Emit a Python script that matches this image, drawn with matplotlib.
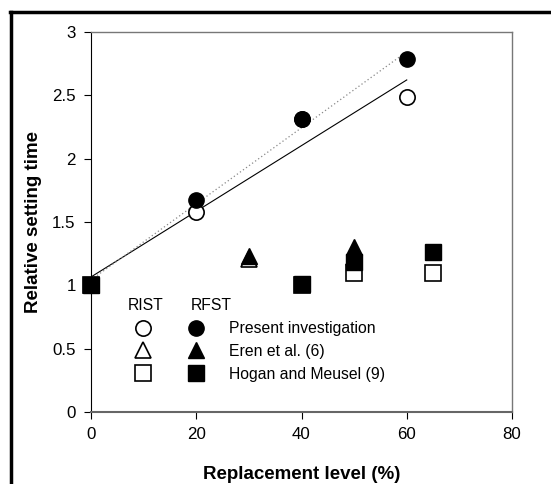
import numpy as np
import matplotlib.pyplot as plt
from matplotlib.lines import Line2D

plt.rcParams['font.family'] = ['Liberation Sans', 'DejaVu Sans']

# present investigation
pres_x = [0, 20, 40, 60]
pres_rist = [1.0, 1.58, 2.31, 2.485]
pres_rfst = [1.0, 1.675, 2.31, 2.79]
# Eren et al. (6)
eren_x = [30, 50]
eren_rist = [1.21, 1.22]
eren_rfst = [1.235, 1.305]
# Hogan and Meusel (9)
hogan_x = [0, 40, 50, 65]
hogan_rist = [1.0, 1.0, 1.095, 1.095]
hogan_rfst = [1.0, 1.01, 1.185, 1.265]

fig = plt.figure(figsize=(5.51, 4.84), dpi=100)
ax = fig.add_axes([91/551, 1-412/484, 421/551, 380/484])

# linear fits to present investigation
fit_x = np.array([0, 60])
k1 = np.polyfit(pres_x, pres_rist, 1)
k2 = np.polyfit(pres_x, pres_rfst, 1)
ax.plot(fit_x, np.polyval(k1, fit_x), color='black', lw=0.8, zorder=2)
ax.plot(fit_x, np.polyval(k2, fit_x), color='#888888', lw=0.9, ls=(0, (1, 2)), zorder=2)

ms = 11
kw = dict(ls='none', ms=ms, clip_on=False)
ax.plot(pres_x, pres_rist, 'o', mfc='white', mec='black', mew=1.2, zorder=3, **kw)
ax.plot(pres_x, pres_rfst, 'o', mfc='black', mec='black', zorder=4, **kw)
ax.plot(eren_x, eren_rist, '^', mfc='white', mec='black', mew=1.2, zorder=3, **kw)
ax.plot(eren_x, eren_rfst, '^', mfc='black', mec='black', zorder=4, **kw)
ax.plot(hogan_x, hogan_rist, 's', mfc='white', mec='black', mew=1.2, zorder=3, **kw)
ax.plot(hogan_x, hogan_rfst, 's', mfc='black', mec='black', zorder=4, **kw)

ax.set_xlim(0, 80)
ax.set_ylim(0, 3)
ax.set_xticks([0, 20, 40, 60, 80])
ax.set_yticks([0, 0.5, 1, 1.5, 2, 2.5, 3])
ax.set_yticklabels(['0', '0.5', '1', '1.5', '2', '2.5', '3'])
ax.tick_params(labelsize=12.2, length=5, width=0.8, direction='out', pad=6)
for s in ['top', 'right']:
    ax.spines[s].set_color('#777777')
    ax.spines[s].set_linewidth(1.0)
ax.spines['bottom'].set_color('#666666')
ax.spines['bottom'].set_linewidth(1.5)
ax.spines['left'].set_linewidth(0.8)

ax.set_xlabel('Replacement level (%)', fontsize=13.5, fontweight='bold', labelpad=17)
ax.set_ylabel('Relative setting time', fontsize=13.5, fontweight='bold', labelpad=7)

# legend block
handles = [Line2D([], [], ls='none', marker=m, ms=ms, mfc='white', mec='black', mew=1.2) for m in 'o^s']
handles += [Line2D([], [], ls='none', marker=m, ms=ms, mfc='black', mec='black') for m in 'o^s']
labels = ['', '', '', 'Present investigation', 'Eren et al. (6)', 'Hogan and Meusel (9)']
leg = ax.legend(handles, labels, ncol=2, frameon=False, fontsize=11.3,
                loc='upper left', bbox_to_anchor=(0.087, 0.26),
                handlelength=1.0, handletextpad=1.6, columnspacing=0.75,
                labelspacing=0.5, borderpad=0)
ax.text(0.088, 0.268, 'RIST', transform=ax.transAxes, fontsize=11.3)
ax.text(0.238, 0.268, 'RFST', transform=ax.transAxes, fontsize=11.3)

# outer frame (top and left only)
fig.add_artist(Line2D([10/551, 1], [1-12/484, 1-12/484], color='black', lw=2.5))
fig.add_artist(Line2D([11/551, 11/551], [0, 1-12/484], color='black', lw=2.5))

fig.savefig('out.png', dpi=100)
